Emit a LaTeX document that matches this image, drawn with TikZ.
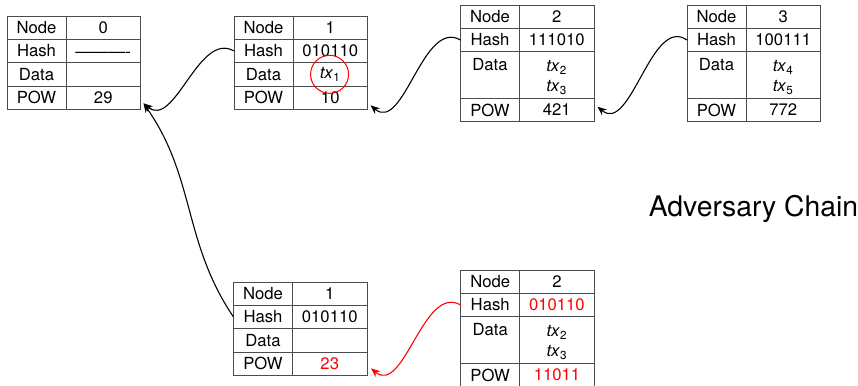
\documentclass[tikz,border=0pt]{standalone}
\usepackage{fontspec}
\setmainfont{TeX Gyre Heros}
\usetikzlibrary{positioning,arrows.meta}

\newcommand{\tx}[1]{\textit{tx}\textsubscript{#1}}

\tikzset{
  lab/.style={draw=black!70, line width=0.6pt, outer sep=0pt, inner sep=0pt,
    minimum width=35.4pt, minimum height=14pt, font=\fontsize{10}{12}\selectfont},
  val/.style={lab, minimum width=44.7pt},
  tall/.style={minimum height=28pt},
  txt/.style={inner sep=0pt, anchor=base, font=\fontsize{10}{12}\selectfont},
  link/.style={-{Stealth[length=5.5pt,width=4.5pt]}, line width=0.65pt},
}

\begin{document}
\begin{tikzpicture}

\useasboundingbox (0,0) rectangle (514.8pt,-231pt);

% node 0
\node[lab, anchor=north west] (b0-l1) at (4.2pt,-9.6pt) {Node};
\node[val, right=0pt of b0-l1] (b0-v1) {0};
\node[lab, below=0pt of b0-l1] (b0-l2) {Hash};
\node[val, right=0pt of b0-l2] (b0-v2) {\vphantom{H}\textemdash\textemdash\textemdash-};
\node[lab, below=0pt of b0-l2] (b0-l3) {Data};
\node[val, right=0pt of b0-l3] (b0-v3) {};
\node[lab, below=0pt of b0-l3] (b0-l4) {POW};
\node[val, right=0pt of b0-l4] (b0-v4) {29};

% node 1
\node[lab, anchor=north west] (b1-l1) at (140.4pt,-9.6pt) {Node};
\node[val, right=0pt of b1-l1] (b1-v1) {1};
\node[lab, below=0pt of b1-l1] (b1-l2) {Hash};
\node[val, right=0pt of b1-l2] (b1-v2) {010110};
\node[lab, below=0pt of b1-l2] (b1-l3) {Data};
\node[val, right=0pt of b1-l3] (b1-v3) {\tx{1}};
\node[lab, below=0pt of b1-l3] (b1-l4) {POW};
\node[val, right=0pt of b1-l4] (b1-v4) {10};
\node[draw=red, line width=0.6pt, circle, minimum size=22.8pt] (c1) at ([xshift=-0.4pt]b1-v3.center) {};

% node 2
\node[lab, anchor=north west] (b2-l1) at (276.3pt,-3pt) {Node};
\node[val, right=0pt of b2-l1] (b2-v1) {2};
\node[lab, below=0pt of b2-l1] (b2-l2) {Hash};
\node[val, right=0pt of b2-l2] (b2-v2) {111010};
\node[lab, tall, below=0pt of b2-l2] (b2-l3) {};
\node[val, tall, right=0pt of b2-l3] (b2-v3) {};
\node[txt] (b2-d) at ([yshift=-11.2pt]b2-l3.north) {Data};
\node[txt] (b2-x2) at ([yshift=-12pt]b2-v3.north) {\tx{2}};
\node[txt] (b2-x3) at ([yshift=-24pt]b2-v3.north) {\tx{3}};
\node[lab, below=0pt of b2-l3] (b2-l4) {POW};
\node[val, right=0pt of b2-l4] (b2-v4) {421};

% node 3
\node[lab, anchor=north west] (b3-l1) at (412.2pt,-3pt) {Node};
\node[val, right=0pt of b3-l1] (b3-v1) {3};
\node[lab, below=0pt of b3-l1] (b3-l2) {Hash};
\node[val, right=0pt of b3-l2] (b3-v2) {100111};
\node[lab, tall, below=0pt of b3-l2] (b3-l3) {};
\node[val, tall, right=0pt of b3-l3] (b3-v3) {};
\node[txt] (b3-d) at ([yshift=-11.2pt]b3-l3.north) {Data};
\node[txt] (b3-x4) at ([yshift=-12pt]b3-v3.north) {\tx{4}};
\node[txt] (b3-x5) at ([yshift=-24pt]b3-v3.north) {\tx{5}};
\node[lab, below=0pt of b3-l3] (b3-l4) {POW};
\node[val, right=0pt of b3-l4] (b3-v4) {772};

% adversary node 1
\node[lab, anchor=north west] (a1-l1) at (140.1pt,-169.2pt) {Node};
\node[val, right=0pt of a1-l1] (a1-v1) {1};
\node[lab, below=0pt of a1-l1] (a1-l2) {Hash};
\node[val, right=0pt of a1-l2] (a1-v2) {010110};
\node[lab, below=0pt of a1-l2] (a1-l3) {Data};
\node[val, right=0pt of a1-l3] (a1-v3) {};
\node[lab, below=0pt of a1-l3] (a1-l4) {POW};
\node[val, right=0pt of a1-l4, text=red] (a1-v4) {23};

% adversary node 2
\node[lab, anchor=north west] (a2-l1) at (276.4pt,-162pt) {Node};
\node[val, right=0pt of a2-l1] (a2-v1) {2};
\node[lab, below=0pt of a2-l1] (a2-l2) {Hash};
\node[val, right=0pt of a2-l2, text=red] (a2-v2) {010110};
\node[lab, tall, below=0pt of a2-l2] (a2-l3) {};
\node[val, tall, right=0pt of a2-l3] (a2-v3) {};
\node[txt] (a2-d) at ([yshift=-11.2pt]a2-l3.north) {Data};
\node[txt] (a2-x2) at ([yshift=-12pt]a2-v3.north) {\tx{2}};
\node[txt] (a2-x3) at ([yshift=-24pt]a2-v3.north) {\tx{3}};
\node[lab, below=0pt of a2-l3] (a2-l4) {POW};
\node[val, right=0pt of a2-l4, text=red] (a2-v4) {11011};

\node[font=\fontsize{17}{20}\selectfont, anchor=base] (adv) at (452.1pt,-129.6pt) {Adversary Chain};

% arrow ends
\coordinate (t0) at ([shift={(1.8pt,3.6pt)}]b0-v4.south east);
\coordinate (t1) at ([shift={(1.8pt,2.4pt)}]b1-v4.south east);
\coordinate (t2) at ([shift={(2.1pt,9pt)}]b2-v4.south east);
\coordinate (s1) at ([shift={(2.4pt,4.2pt)}]a1-v4.south east);

\draw[link] (b1-l2.west) to[out=150,in=-40] (t0);
\draw[link] (b2-l2.west) to[out=150,in=-40] (t1);
\draw[link] (b3-l2.west) to[out=145,in=-40] (t2);
\draw[link] (a1-l2.west) to[out=124,in=-55] (t0);
\draw[link, red] (a2-l2.west) to[out=150,in=-40] (s1);

\end{tikzpicture}
\end{document}
